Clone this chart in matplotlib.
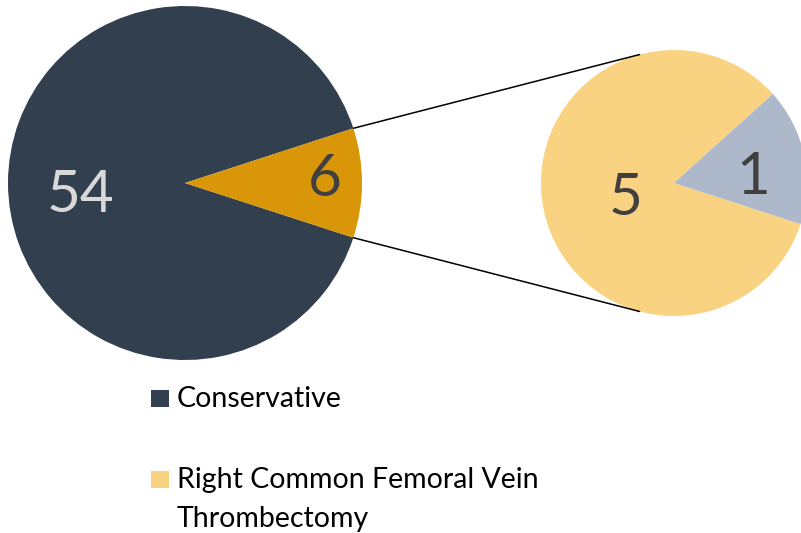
import numpy as np
import matplotlib.pyplot as plt
from matplotlib.patches import ConnectionPatch, Rectangle

# outer pie: treatment split, inner pie: breakdown of the small slice
main_labels = ["Conservative", "Right Common Femoral Vein\nThrombectomy"]
main_values = [54, 6]
main_colors = ["#323F4E", "#D99608"]
main_text_colors = ["#D9D9D9", "#404040"]

sub_values = [5, 1]
sub_colors = ["#F9D381", "#ADB9CA"]
sub_text_colors = ["#404040", "#404040"]

legend_labels = main_labels
legend_colors = ["#323F4E", "#F9D381"]

W, H = 801, 533
FONT = "Lato"

fig = plt.figure(figsize=(W / 100, H / 100), dpi=100)


def px_axes(cx, cy, r):
    # axes box in pixel coords (origin top-left) -> figure fraction
    return fig.add_axes([(cx - r) / W, 1 - (cy + r) / H, 2 * r / W, 2 * r / H])


ax1 = px_axes(185, 183, 177)
ax2 = px_axes(674, 183, 133)

small_angle = 360 * main_values[1] / sum(main_values)
w1, _ = ax1.pie(main_values, colors=main_colors, startangle=small_angle / 2,
                radius=1, wedgeprops=dict(linewidth=0))
sub_first = 360 * sub_values[1] / sum(sub_values)
w2, _ = ax2.pie(sub_values, colors=sub_colors,
                startangle=-small_angle / 2 + sub_first, radius=1,
                wedgeprops=dict(linewidth=0))

for ax in (ax1, ax2):
    ax.set_xlim(-1, 1)
    ax.set_ylim(-1, 1)
    ax.set_aspect("equal")
    ax.axis("off")


def label_wedges(ax, wedges, values, colors, dists, dys):
    for w, v, c, d, dy in zip(wedges, values, colors, dists, dys):
        mid = np.deg2rad((w.theta1 + w.theta2) / 2)
        ax.text(d * np.cos(mid), d * np.sin(mid) + dy, str(v), color=c,
                fontsize=42, family=FONT, ha="center", va="center")


label_wedges(ax1, w1, main_values, main_text_colors, [0.59, 0.79], [-0.07, 0.02])
label_wedges(ax2, w2, sub_values, sub_text_colors, [0.37, 0.61], [-0.04, -0.085])

# connector lines between the small slice and the second pie
for sgn in (1, -1):
    a1 = np.deg2rad(sgn * small_angle / 2)
    a2 = np.deg2rad(sgn * 105)
    con = ConnectionPatch(xyA=(np.cos(a1), np.sin(a1)), coordsA=ax1.transData,
                          xyB=(np.cos(a2), np.sin(a2)), coordsB=ax2.transData,
                          color="black", linewidth=1.1)
    fig.add_artist(con)

# legend drawn by hand to match the wrapped layout
ys = [407, 488]
line_gap = 39
for lab, col, y in zip(legend_labels, legend_colors, ys):
    fig.add_artist(Rectangle((151 / W, 1 - y / H), 18 / W, 17 / H,
                             transform=fig.transFigure, color=col, lw=0))
    for i, line in enumerate(lab.split("\n")):
        fig.text(177 / W, 1 - (y + i * line_gap) / H, line, fontsize=20.5,
                 family=FONT, color="black", va="baseline", ha="left")

fig.savefig("out.png", dpi=100)
